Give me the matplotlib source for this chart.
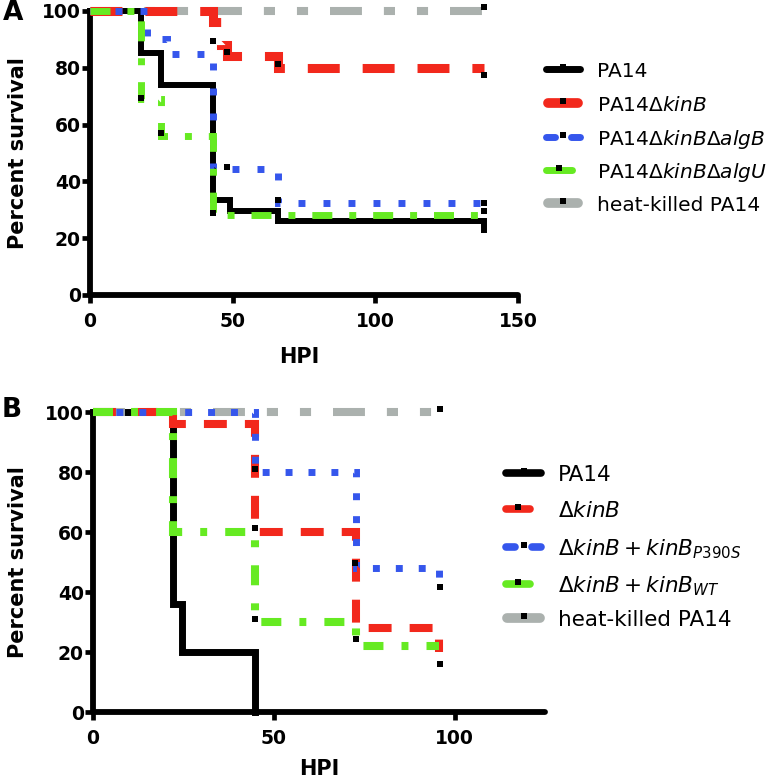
import matplotlib
matplotlib.use("Agg")
import matplotlib.pyplot as plt
from matplotlib.lines import Line2D

plt.rcParams['font.family'] = 'DejaVu Sans'
plt.rcParams['mathtext.fontset'] = 'dejavusans'
plt.rcParams['lines.scale_dashes'] = False

# ---- panel A data (Kaplan-Meier steps) ----
a_pa14_t = [0, 18, 25, 43, 49, 66, 138]
a_pa14_s = [100, 85.2, 74.1, 33.3, 29.6, 25.9, 23]
a_kinb_t = [0, 43, 46, 48, 66, 138]
a_kinb_s = [100, 96, 88, 84, 80, 80]
a_algb_t = [0, 20, 27, 43, 66, 138]
a_algb_s = [100, 90, 85, 44.4, 32.4, 32.4]
a_algu_t = [0, 18, 25, 43, 138]
a_algu_s = [100, 69, 56, 28, 28]
a_heat_t = [0, 138]
a_heat_s = [100, 100]

# censor ticks (black squares)
a_kinb_cx = [43, 48, 66, 138]
a_kinb_cy = [89.5, 85.5, 81.5, 77.5]
a_algb_cx = [48, 66, 138]
a_algb_cy = [45, 33.5, 32.5]
a_algu_cx = [18, 25, 43, 138]
a_algu_cy = [69.5, 57, 29, 29.5]
a_heat_cx = [138]
a_heat_cy = [101.5]

a_labels = ['PA14', r'PA14$\mathit{ΔkinB}$', r'PA14$\mathit{ΔkinBΔalgB}$',
            r'PA14$\mathit{ΔkinBΔalgU}$', 'heat-killed PA14']

# ---- panel B data ----
b_pa14_t = [0, 22, 24.6, 44.7]
b_pa14_s = [100, 36, 20, 0]
b_kinb_t = [0, 22, 44.7, 72.8, 95.8]
b_kinb_s = [100, 96, 60, 28, 20]
b_p390_t = [0, 44.7, 72.8, 95.8]
b_p390_s = [100, 80, 48, 44]
b_wt_t = [0, 22, 44.7, 72.8, 95.8]
b_wt_s = [100, 60, 30, 22, 22]
b_heat_t = [0, 95.8]
b_heat_s = [100, 100]

b_kinb_cx = [44.7]
b_kinb_cy = [61.5]
b_p390_cx = [44.7, 72.5, 96]
b_p390_cy = [81, 49.7, 41.7]
b_wt_cx = [44.7, 72.8, 96]
b_wt_cy = [31, 24.5, 16]
b_heat_cx = [96]
b_heat_cy = [101]

b_labels = ['PA14', r'$\mathit{ΔkinB}$', r'$\mathit{ΔkinB}+\mathit{kinB}_{\mathit{P390S}}$',
            r'$\mathit{ΔkinB}+\mathit{kinB}_{\mathit{WT}}$', 'heat-killed PA14']

RED = '#f2281c'
BLUE = '#3556ec'
GREEN = '#66ea22'
GREY = '#abb1ae'

W, H = 780, 783
fig = plt.figure(figsize=(W / 100, H / 100), dpi=100)


def style_axes(ax, xmax, xticks):
    ax.set_xlim(0, xmax)
    ax.set_ylim(0, 100)
    ax.set_xticks(xticks)
    ax.set_yticks(range(0, 101, 20))
    for s in ['top', 'right']:
        ax.spines[s].set_visible(False)
    for s in ['left', 'bottom']:
        ax.spines[s].set_linewidth(4.2)
        ax.spines[s].set_capstyle('round')
    ax.tick_params(width=3.4, length=5.5, labelsize=13.5)
    ax.tick_params(axis='x', pad=7)
    ax.tick_params(axis='y', pad=1)
    for lab in ax.get_xticklabels() + ax.get_yticklabels():
        lab.set_fontweight('bold')


def curve(ax, t, s, color, lw, dashes=None, z=2):
    kw = dict(where='post', color=color, lw=lw, clip_on=False, zorder=z,
              solid_joinstyle='miter', dash_joinstyle='miter')
    if dashes is not None:
        kw['linestyle'] = (0, dashes)
    ax.step(t, s, **kw)


def censor(ax, x, y):
    ax.plot(x, y, 's', color='black', ms=4.2, mew=0, clip_on=False, zorder=10)


def key(x0, x1, y, color, lw, split=False):
    r = lw * 100 / 72 / 2
    fy = 1 - y / H
    if split:
        mid = (x0 + x1) / 2
        segs = [(x0 + r, mid - 5 - r), (mid + 5 + r, x1 - r)]
    else:
        segs = [(x0 + r, x1 - r)]
    for a, b in segs:
        fig.add_artist(Line2D([a / W, b / W], [fy, fy], color=color, lw=lw,
                              solid_capstyle='round'))
    fig.add_artist(Line2D([(x0 + x1) / 2 / W], [1 - (y - 2) / H], marker='s',
                          color='black', ms=4.2, mew=0))


# ---------------- panel A ----------------
axA = fig.add_axes([90 / W, 1 - 295 / H, (518 - 90) / W, (295 - 11) / H])
curve(axA, a_pa14_t, a_pa14_s, 'black', 4.3, z=2)
curve(axA, a_heat_t, a_heat_s, GREY, 5.8, (23, 15.8, 8, 15.8, 8, 15.8), z=3)
curve(axA, a_kinb_t, a_kinb_s, RED, 6.5, (23, 16.5), z=4)
curve(axA, a_algb_t, a_algb_s, BLUE, 5, (5, 13), z=5)
curve(axA, a_algu_t, a_algu_s, GREEN, 5, (14.4, 12.2, 5, 12.2), z=6)
censor(axA, a_kinb_cx, a_kinb_cy)
censor(axA, a_algb_cx, a_algb_cy)
censor(axA, a_algu_cx, a_algu_cy)
censor(axA, a_heat_cx, a_heat_cy)
style_axes(axA, 150, [0, 50, 100, 150])
axA.set_ylabel('Percent survival', fontsize=15, fontweight='bold', va='center')
axA.yaxis.set_label_coords(-0.168, 0.5)
axA.set_xlabel('HPI', fontsize=15, fontweight='bold', va='center')
axA.xaxis.set_label_coords(0.49, -0.218)

a_cols = ['black', RED, BLUE, GREEN, GREY]
a_lws = [5, 7, 5, 5, 7]
a_ys = [69, 103, 137, 170, 203]
a_ends = [583, 583, 583, 575, 583]
for lab, c, lw, y, xe in zip(a_labels, a_cols, a_lws, a_ys, a_ends):
    key(543, xe, y, c, lw, split=(c == BLUE))
    fig.text(597 / W, 1 - (y + 8) / H, lab, fontsize=14.5, va='baseline')

fig.text(13 / W, 1 - 13 / H, 'A', fontsize=19, fontweight='bold', ha='center', va='center')

# ---------------- panel B ----------------
axB = fig.add_axes([93 / W, 1 - 712 / H, (545 - 93) / W, (712 - 412) / H])
curve(axB, b_pa14_t, b_pa14_s, 'black', 5, z=2)
curve(axB, b_heat_t, b_heat_s, GREY, 5.8, (23, 15.8, 8, 15.8, 8, 15.8), z=3)
curve(axB, b_kinb_t, b_kinb_s, RED, 5.8, (16.5, 13), z=4)
curve(axB, b_p390_t, b_p390_s, BLUE, 5, (5, 11.5), z=5)
curve(axB, b_wt_t, b_wt_s, GREEN, 5.8, (14.4, 13, 5, 13), z=6)
censor(axB, b_kinb_cx, b_kinb_cy)
censor(axB, b_p390_cx, b_p390_cy)
censor(axB, b_wt_cx, b_wt_cy)
censor(axB, b_heat_cx, b_heat_cy)
style_axes(axB, 125, [0, 50, 100])
axB.set_ylabel('Percent survival', fontsize=15, fontweight='bold', va='center')
axB.yaxis.set_label_coords(-0.165, 0.5)
axB.set_xlabel('HPI', fontsize=15, fontweight='bold', va='center')
axB.xaxis.set_label_coords(0.5, -0.19)

b_cols = ['black', RED, BLUE, GREEN, GREY]
b_lws = [5.5, 5.5, 5.5, 5.5, 7]
b_ys = [473, 509, 547, 584, 618]
b_ends = [545, 534, 545, 534, 545]
for lab, c, lw, y, xe in zip(b_labels, b_cols, b_lws, b_ys, b_ends):
    key(502, xe, y, c, lw, split=(c == BLUE))
    fig.text(558 / W, 1 - (y + 8) / H, lab, fontsize=15.5, va='baseline')

fig.text(12 / W, 1 - 410 / H, 'B', fontsize=19, fontweight='bold', ha='center', va='center')

fig.savefig('out.png', dpi=100)
